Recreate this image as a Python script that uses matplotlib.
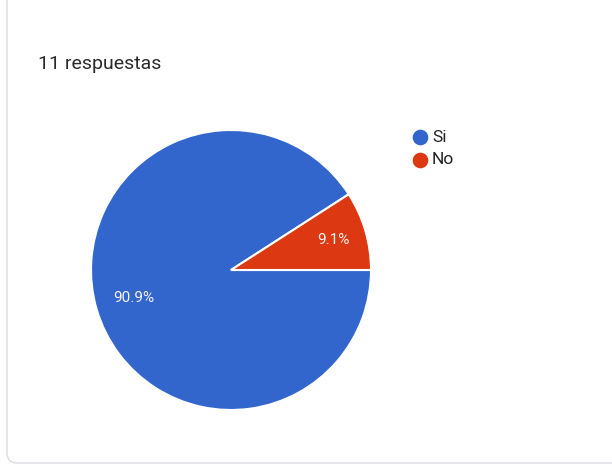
import numpy as np
import matplotlib
matplotlib.use("Agg")
import matplotlib.pyplot as plt
from matplotlib.patches import FancyBboxPatch

categories = ["Si", "No"]
values = [90.9, 9.1]
colors = ["#3366CC", "#DC3912"]
title = "11 respuestas"

W, H = 612, 466
fig = plt.figure(figsize=(W / 100, H / 100), dpi=100)
fig.patch.set_facecolor("white")

# card border (left + bottom, rounded corner)
bg = fig.add_axes([0, 0, 1, 1])
bg.set_xlim(0, W)
bg.set_ylim(H, 0)
bg.axis("off")
card = FancyBboxPatch((7, -30), 700, 493, boxstyle="round,pad=0,rounding_size=10",
                      facecolor="white", edgecolor="#dadce0", linewidth=1.0)
bg.add_patch(card)
bg.text(38, 69, title, fontsize=14, family="Roboto", color="#2a2a2a",
        va="baseline", ha="left")

# pie
cx, cy, r = 231, 270, 140
ax = fig.add_axes([(cx - r) / W, (H - cy - r) / H, 2 * r / W, 2 * r / H])
wedges, texts, autotexts = ax.pie(
    values, colors=colors, startangle=32.76, counterclock=True,
    autopct=lambda p: f"{p:.1f}%", pctdistance=0.76,
    wedgeprops=dict(edgecolor="white", linewidth=1.5),
    textprops=dict(color="#f4f4f4", fontsize=11, family="Roboto"),
    radius=1.0,
)
# nudge the large-slice label slightly inward, as in the reference
w0 = wedges[0]
mid = np.deg2rad((w0.theta1 + w0.theta2) / 2)
autotexts[0].set_position((0.72 * np.cos(mid), 0.72 * np.sin(mid)))
ax.set_xlim(-1, 1)
ax.set_ylim(-1, 1)
ax.set_aspect("equal")
ax.axis("off")

# legend
for i, (c, col) in enumerate(zip(categories, colors)):
    y = 137 + i * 23
    bg.scatter([420], [y], s=105, color=col, zorder=5)
    bg.text(432, y, c, fontsize=12.5, family="Roboto", color="#222222",
            va="center", ha="left")

fig.savefig("out.png", dpi=100, facecolor="white")
